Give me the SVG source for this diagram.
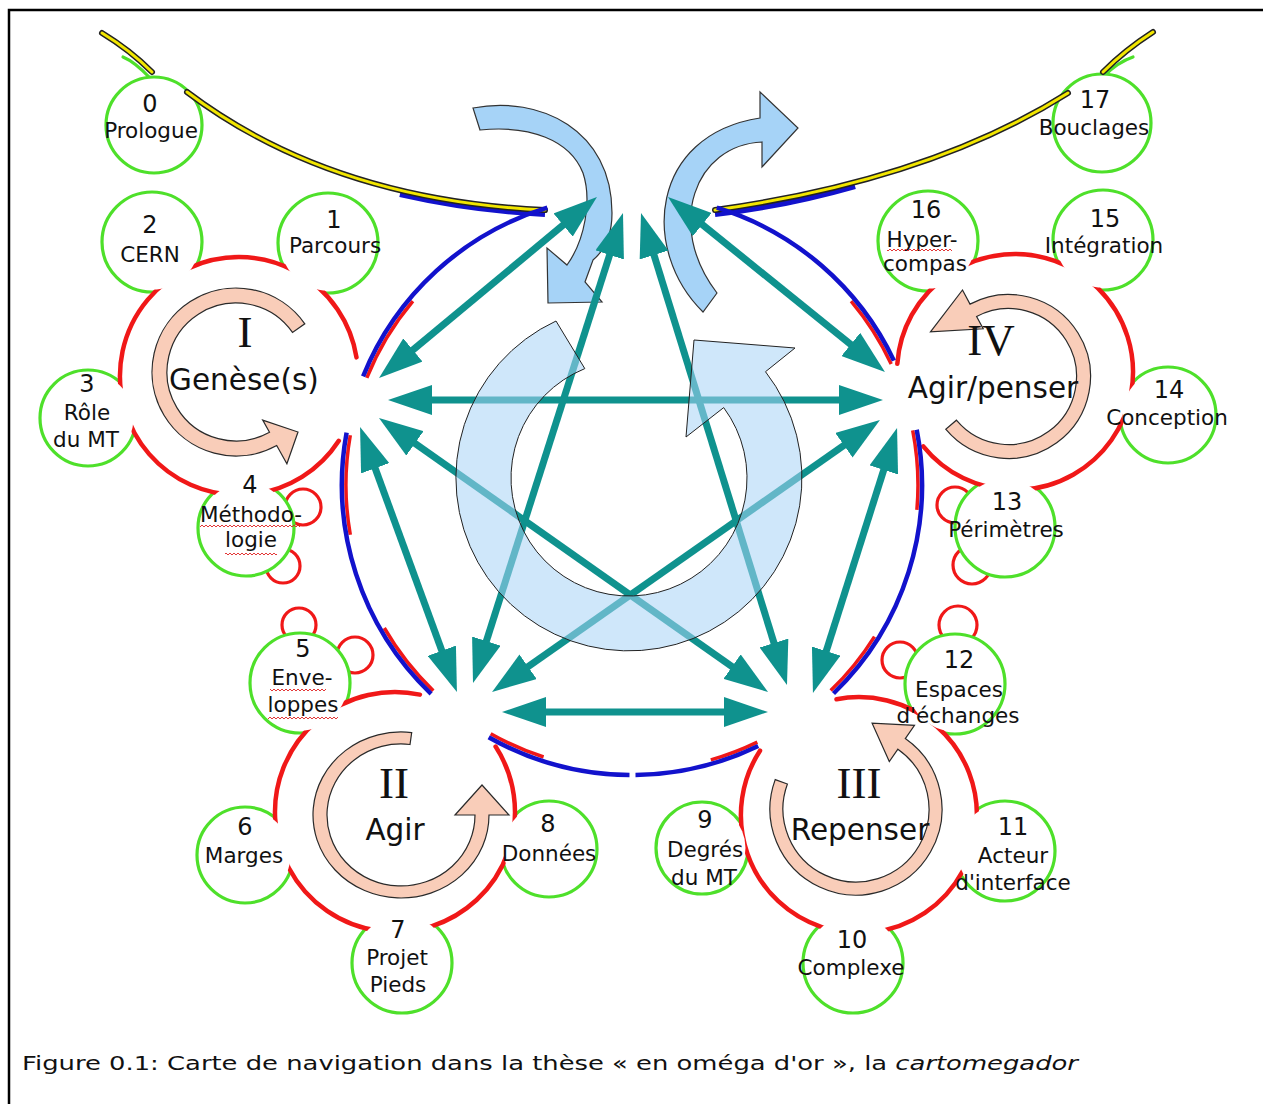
<svg xmlns="http://www.w3.org/2000/svg" width="1263" height="1104" viewBox="0 0 1263 1104">
<defs>
<style>
.lobe{fill:#fff;stroke:#4ee02a;stroke-width:3.2}
.cov{fill:#fff;stroke:none}
.ringfill{fill:#fff;stroke:none}
.ring{fill:none;stroke:#f01818;stroke-width:4.5;stroke-linecap:round}
.bump{fill:#fff;stroke:#f01818;stroke-width:3.2}
.pink{fill:#f9cdb9;stroke:#2a2a2a;stroke-width:1.2}
.num{font-family:"DejaVu Sans",Verdana,sans-serif;font-size:24px;fill:#111;text-anchor:middle}
.lab{font-family:"DejaVu Sans",Verdana,sans-serif;font-size:21.5px;fill:#111;text-anchor:middle}
.hub{font-family:"DejaVu Sans",Verdana,sans-serif;font-size:29.5px;fill:#111;text-anchor:middle}
.rom{font-family:"Liberation Serif","Times New Roman",serif;font-size:45px;fill:#111;text-anchor:middle}
.teal{stroke:#0f928e;stroke-width:7;marker-start:url(#ah);marker-end:url(#ah)}
.blue{fill:none;stroke:#1212cc;stroke-width:4.5}
.redacc{fill:none;stroke:#f01818;stroke-width:3.5}
.yk{fill:none;stroke:#222;stroke-width:6;stroke-linecap:round}
.yy{fill:none;stroke:#f2e600;stroke-width:3;stroke-linecap:round}
.lb{fill:#a6d3f7;stroke:#333;stroke-width:1.2}
.tail{fill:none;stroke:#4ee02a;stroke-width:3.2;stroke-linecap:round}
.wv{fill:url(#wavy)}
</style>
<marker id="ah" viewBox="0 0 44 30" refX="20" refY="15" markerWidth="44" markerHeight="30" markerUnits="userSpaceOnUse" orient="auto-start-reverse">
<path d="M0,0 L44,15 L0,30 Z" fill="#0f928e"/>
</marker>
<pattern id="wavy" x="0" y="0" width="4" height="4" patternUnits="userSpaceOnUse">
<path d="M0,3 L2,1 L4,3" fill="none" stroke="#e02020" stroke-width="0.9"/>
</pattern>
</defs>
<rect x="0" y="0" width="1263" height="1104" fill="#fff"/>
<path d="M9,1104 L9,10 L1263,10" fill="none" stroke="#000" stroke-width="2.5"/>

<!-- Lobe 0 -->
<g id="node-0">
<path class="tail" d="M150,78 Q135,62 123,57"/>
<circle class="lobe" cx="154" cy="125" r="48"/>
<text class="num" x="150" y="112">0</text>
<text class="lab" x="151" y="138">Prologue</text>
</g>
<!-- Lobe 17 -->
<g id="node-17">
<path class="tail" d="M1104,76 Q1118,62 1133,57"/>
<circle class="lobe" cx="1102" cy="123" r="49"/>
<text class="num" x="1095" y="108">17</text>
<text class="lab" x="1094" y="135">Bouclages</text>
</g>

<!-- Hub I -->
<g id="hub-I">
<circle class="bump" cx="303" cy="507" r="18"/>
<circle class="bump" cx="283" cy="566" r="17"/>
<circle class="lobe" cx="152" cy="242" r="50"/>
<circle class="lobe" cx="328" cy="243" r="50"/>
<circle class="lobe" cx="88" cy="418" r="48"/>
<circle class="lobe" cx="246" cy="528" r="48"/>
<circle class="ringfill" cx="239" cy="376" r="119"/>
<path class="ring" d="M338.8,440.8 A119,119 0 1,1 356.5,357.4"/>
<circle class="cov" cx="152" cy="242" r="47.5"/>
<circle class="cov" cx="328" cy="243" r="47.5"/>
<circle class="cov" cx="88" cy="418" r="45.5"/>
<circle class="cov" cx="246" cy="528" r="45.5"/>
<path class="pink" d="M304.8,323.8 A84,84 0 1,0 276.7,445.5 L286.9,463.8 L298,432 L262.7,420.1 L269.5,432.3 A69,69 0 1,1 292.5,332.4 Z"/>
<text class="rom" x="245" y="347">I</text>
<text class="hub" x="244" y="390">Genèse(s)</text>
<text class="num" x="150" y="233">2</text>
<text class="lab" x="150" y="262">CERN</text>
<text class="num" x="334" y="228">1</text>
<text class="lab" x="335" y="253">Parcours</text>
<text class="num" x="87" y="392">3</text>
<text class="lab" x="87" y="420">Rôle</text>
<text class="lab" x="86" y="447">du MT</text>
<text class="num" x="250" y="493">4</text>
<text class="lab" x="251" y="522">Méthodo-</text>
<text class="lab" x="251" y="547">logie</text>
<rect class="wv" x="200" y="524" width="100" height="4"/>
<rect class="wv" x="225" y="552" width="52" height="4"/>
</g>

<!-- Hub II -->
<g id="hub-II">
<circle class="bump" cx="299" cy="625" r="17"/>
<circle class="bump" cx="355" cy="655" r="18"/>
<circle class="lobe" cx="300" cy="683" r="50"/>
<circle class="lobe" cx="245" cy="855" r="48"/>
<circle class="lobe" cx="402" cy="963" r="50"/>
<circle class="lobe" cx="549" cy="849" r="48"/>
<circle class="ringfill" cx="395" cy="812" r="120"/>
<path class="ring" d="M495.6,746.6 A120,120 0 1,1 419.9,694.6"/>
<circle class="cov" cx="300" cy="683" r="47.5"/>
<circle class="cov" cx="245" cy="855" r="45.5"/>
<circle class="cov" cx="402" cy="963" r="47.5"/>
<circle class="cov" cx="549" cy="849" r="45.5"/>
<path class="pink" d="M411.7,732.6 A88,83 0 1,0 489,815 L509,815 L482,785 L455,815 L475,815 A74,71 0 1,1 410,744.5 Z"/>
<text class="rom" x="394" y="798">II</text>
<text class="hub" x="395" y="840">Agir</text>
<text class="num" x="303" y="657">5</text>
<text class="lab" x="302" y="685">Enve-</text>
<text class="lab" x="303" y="712">loppes</text>
<rect class="wv" x="270" y="688" width="56" height="4"/>
<rect class="wv" x="268" y="716" width="70" height="4"/>
<text class="num" x="245" y="835">6</text>
<text class="lab" x="244" y="863">Marges</text>
<text class="num" x="398" y="938">7</text>
<text class="lab" x="397" y="965">Projet</text>
<text class="lab" x="398" y="992">Pieds</text>
<text class="num" x="548" y="832">8</text>
<text class="lab" x="549" y="861">Données</text>
</g>

<!-- Hub III -->
<g id="hub-III">
<circle class="bump" cx="958" cy="625" r="19"/>
<circle class="bump" cx="900" cy="660" r="18"/>
<circle class="lobe" cx="702" cy="848" r="46"/>
<circle class="lobe" cx="853" cy="963" r="50"/>
<circle class="lobe" cx="1005" cy="851" r="50"/>
<circle class="lobe" cx="955" cy="684" r="50"/>
<circle class="ringfill" cx="859" cy="815" r="118"/>
<path class="ring" d="M836.5,699.2 A118,118 0 1,1 760,750.7"/>
<circle class="cov" cx="702" cy="848" r="43.5"/>
<circle class="cov" cx="853" cy="963" r="47.5"/>
<circle class="cov" cx="1005" cy="851" r="47.5"/>
<circle class="cov" cx="955" cy="684" r="47.5"/>
<path class="pink" d="M775.2,779.6 A86,86 0 1,0 905.3,738.6 L914.5,725.4 L872.1,723.2 L889.3,761.5 L897.9,749.2 A73,73 0 1,1 787.4,784 Z"/>
<text class="rom" x="859" y="798">III</text>
<text class="hub" x="860" y="840">Repenser</text>
<text class="num" x="705" y="828">9</text>
<text class="lab" x="705" y="857">Degrés</text>
<text class="lab" x="704" y="885">du MT</text>
<text class="num" x="852" y="948">10</text>
<text class="lab" x="851" y="975">Complexe</text>
<text class="num" x="1013" y="835">11</text>
<text class="lab" x="1013" y="863">Acteur</text>
<text class="lab" x="1013" y="890">d'interface</text>
<text class="num" x="959" y="668">12</text>
<text class="lab" x="959" y="697">Espaces</text>
<text class="lab" x="958" y="723">d'échanges</text>
</g>

<!-- Hub IV -->
<g id="hub-IV">
<circle class="bump" cx="955" cy="505" r="18"/>
<circle class="bump" cx="972" cy="565" r="19"/>
<circle class="lobe" cx="928" cy="241" r="50"/>
<circle class="lobe" cx="1103" cy="240" r="50"/>
<circle class="lobe" cx="1168" cy="415" r="48"/>
<circle class="lobe" cx="1005" cy="527" r="50"/>
<circle class="ringfill" cx="1015" cy="372" r="118"/>
<path class="ring" d="M897.3,363.8 A118,118 0 1,1 923.3,446.3"/>
<circle class="cov" cx="928" cy="241" r="47.5"/>
<circle class="cov" cx="1103" cy="240" r="47.5"/>
<circle class="cov" cx="1168" cy="415" r="45.5"/>
<circle class="cov" cx="1005" cy="527" r="47.5"/>
<path class="pink" d="M945.7,429.2 A82,82 0 1,0 970,304.1 L962.5,290 L930.5,331.9 L983.2,328.8 L976.6,316.5 A68,68 0 1,1 956.4,420.2 Z"/>
<text class="rom" x="991" y="355">IV</text>
<text class="hub" x="993" y="398">Agir/penser</text>
<text class="num" x="926" y="218">16</text>
<text class="lab" x="922" y="247">Hyper-</text>
<text class="lab" x="925" y="271">compas</text>
<rect class="wv" x="887" y="248" width="65" height="4"/>
<text class="num" x="1105" y="227">15</text>
<text class="lab" x="1104" y="253">Intégration</text>
<text class="num" x="1169" y="398">14</text>
<text class="lab" x="1167" y="425">Conception</text>
<text class="num" x="1007" y="510">13</text>
<text class="lab" x="1006" y="537">Périmètres</text>
</g>

<!-- Connectors -->
<g id="connectors">
<path d="M400,194 Q470,210 545,214" fill="none" stroke="#1212cc" stroke-width="6"/>
<path d="M715,214 Q785,206 855,186" fill="none" stroke="#1212cc" stroke-width="6"/>
<path class="yk" d="M102,33 Q130,50 152,72"/>
<path class="yy" d="M102,33 Q130,50 152,72"/>
<path class="yk" d="M187,92 Q330,200 545,210"/>
<path class="yy" d="M187,92 Q330,200 545,210"/>
<path class="yk" d="M1153,32 Q1125,50 1103,72"/>
<path class="yy" d="M1153,32 Q1125,50 1103,72"/>
<path class="yk" d="M715,210 Q930,180 1068,93"/>
<path class="yy" d="M715,210 Q930,180 1068,93"/>
<path class="redacc" d="M366.8,377.9 A286,286 0 0,1 412.9,301.2"/>
<path class="redacc" d="M350.3,435.3 A286,286 0 0,0 350.3,534.7"/>
<path class="redacc" d="M433.3,690.7 A286,286 0 0,1 384.3,628"/>
<path class="redacc" d="M490.7,733.7 A286,286 0 0,0 543.6,757"/>
<path class="redacc" d="M757.3,742.1 A286,286 0 0,1 710.8,759.9"/>
<path class="redacc" d="M830.7,690.6 A286,286 0 0,0 874.5,636.6"/>
<path class="redacc" d="M912.7,430.4 A286,286 0 0,1 916.9,509.9"/>
<path class="redacc" d="M891.2,364.1 A286,286 0 0,0 851.1,301.2"/>
<path class="blue" d="M547.3,207.7 A290,290 0 0,0 363.1,376.3"/>
<path class="blue" d="M346.6,432.6 A290,290 0 0,0 431.1,693.9"/>
<path class="blue" d="M488.7,737.2 A290,290 0 0,0 629.5,775"/>
<path class="blue" d="M635.5,775 A290,290 0 0,0 758.2,746"/>
<path class="blue" d="M833.5,693.5 A290,290 0 0,0 916.7,429.7"/>
<path class="blue" d="M893.9,360.6 A290,290 0 0,0 716.8,207.7"/>
</g>

<g id="top-loops">
<path class="lb" d="M473,108 C540,95 612,130 612,213 C612,235 605,250 593,260 L585,282 L602,302 L548,303 L547,248 L567,265 C585,240 592,200 583,173 C570,140 530,125 480,130 Z"/>
<path class="lb" d="M717,293 L703,312 C640,250 650,135 760,118 L760,92 L798,128 L762,167 L762,142 C695,145 665,225 717,293 Z"/>
</g>

<g id="arrows">
<line class="teal" x1="397.5" y1="362.7" x2="578.5" y2="212.3"/>
<line class="teal" x1="686.7" y1="212" x2="866.3" y2="357"/>
<line class="teal" x1="412" y1="400" x2="859" y2="400"/>
<line class="teal" x1="368.3" y1="449.5" x2="448.7" y2="669.5"/>
<line class="teal" x1="615.7" y1="235.9" x2="480.3" y2="660.1"/>
<line class="teal" x1="860.3" y1="433.8" x2="511.7" y2="678.2"/>
<line class="teal" x1="526" y1="712" x2="744" y2="712"/>
<line class="teal" x1="398.6" y1="431.8" x2="748.4" y2="678.2"/>
<line class="teal" x1="648.1" y1="235.9" x2="779.9" y2="662.1"/>
<line class="teal" x1="889.8" y1="450.9" x2="820.2" y2="670.1"/>
</g>

<g id="center-cycle">
<path d="M556,321 A173,173 0 1,0 765.5,371.7 L795,348 L694,340 L686,437 L723.7,407.6 A118,118 0 1,1 584.8,368.6 Z" fill="#a8d4f5" fill-opacity="0.55" stroke="#222" stroke-width="1"/>
</g>

<text x="22" y="1070" font-family="DejaVu Sans, Verdana, sans-serif" font-size="20" fill="#111" textLength="1056" lengthAdjust="spacingAndGlyphs">Figure 0.1: Carte de navigation dans la thèse « en oméga d'or », la <tspan font-style="italic">cartomegador</tspan></text>
</svg>
